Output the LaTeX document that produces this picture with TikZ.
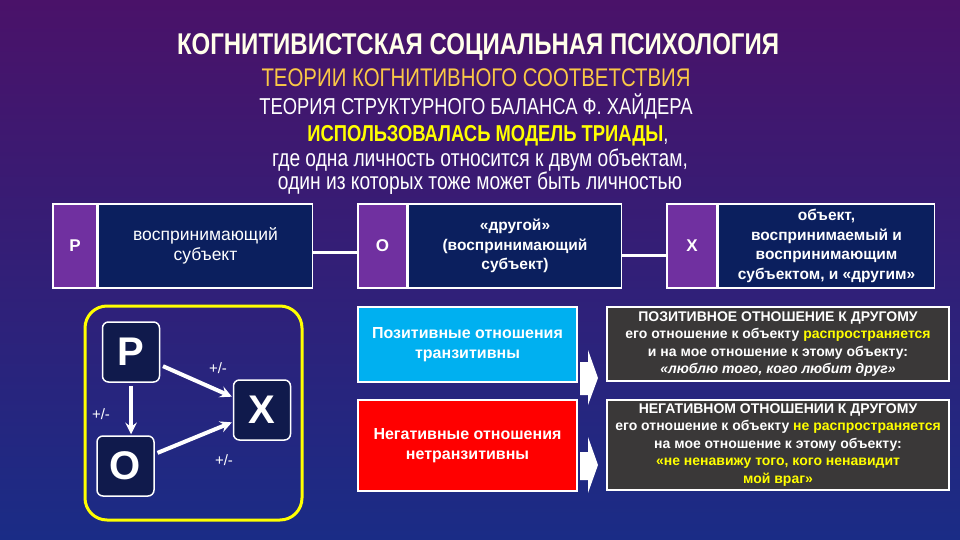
\documentclass[tikz,border=0pt]{standalone}
\usepackage{fontspec}
\setmainfont{Liberation Sans}
\newfontfamily\narrowfont[FakeStretch=0.8]{Liberation Sans}
\usepackage{xcolor,tikz}
\usetikzlibrary{calc,positioning}
\tikzset{>=stealth}
\newcommand{\fsz}[2]{\fontsize{#1}{#2}\selectfont}
\definecolor{bgtop}{HTML}{4A1269}
\definecolor{bgmid}{HTML}{2E1F7C}
\definecolor{bgbot}{HTML}{1A2C86}
\definecolor{tagpurple}{HTML}{7030A0}
\definecolor{deepnavy}{HTML}{0B1F5E}
\definecolor{trinavy}{HTML}{101A4C}
\definecolor{skyblue}{HTML}{00B0F0}
\definecolor{alarmred}{HTML}{FF0000}
\definecolor{slate}{HTML}{3A3838}
\definecolor{gold}{HTML}{FAC846}
\definecolor{yel}{HTML}{FFFF00}
\definecolor{cream}{HTML}{FFFFEA}
\tikzset{
  headline/.style={text=white,font=\narrowfont,inner sep=0pt},
  tag/.style={fill=tagpurple,draw=white,line width=1.5pt,text=white,
    minimum height=84pt,inner sep=0pt,font=\bfseries\fsz{17}{20}},
  desc/.style={fill=deepnavy,draw=white,line width=1.5pt,text=white,
    minimum height=84pt,inner sep=0pt,align=center},
  link/.style={white,line width=3pt},
  frame/.style={draw=yel,line width=3pt,rounded corners=22pt},
  big/.style={fill=trinavy,draw=white,line width=1.5pt,rounded corners=6pt,
    minimum width=57pt,minimum height=60pt,inner sep=0pt,text=white,
    font=\bfseries\fsz{40}{40}},
  bolt/.style={->,white,line width=4pt,shorten <=3pt,shorten >=1pt},
  sign/.style={text=white,inner sep=0pt,font=\fsz{15}{17}},
  rule/.style={draw=white,line width=1.5pt,text=white,align=center,
    minimum width=219pt,inner sep=0pt,font=\bfseries\fsz{16}{19.5}},
  comment/.style={fill=slate,draw=white,line width=1.5pt,text=white,align=center,
    minimum width=342pt,inner sep=0pt,font=\bfseries\fsz{14}{17.5}}
}
\begin{document}
\begin{tikzpicture}[x=1pt,y=-1pt]
\useasboundingbox (0,0) rectangle (960,540);
\shade[top color=bgtop,middle color=bgmid,bottom color=bgbot] (0,0) rectangle (960,540);
% headings
\node[headline,text=cream,font=\narrowfont\bfseries\fsz{30}{34}] (title) at (478,47) {КОГНИТИВИСТСКАЯ СОЦИАЛЬНАЯ ПСИХОЛОГИЯ};
\node[headline,text=gold,font=\narrowfont\fsz{25.5}{28}] (theory) at (476,78) {ТЕОРИИ КОГНИТИВНОГО СООТВЕТСТВИЯ};
\node[headline,font=\narrowfont\fsz{23}{28}] (heider) at (476,106) {ТЕОРИЯ СТРУКТУРНОГО БАЛАНСА Ф. ХАЙДЕРА};
\node[headline,font=\narrowfont\fsz{23}{28}] (triad) at (488,136) {\textcolor{yel}{\bfseries ИСПОЛЬЗОВАЛАСЬ МОДЕЛЬ ТРИАДЫ},};
\node[headline,align=center,font=\narrowfont\fsz{24}{23.5}] (note) at (480,171.5) {где одна личность относится к двум объектам,\\один из которых тоже может быть личностью};
% P -- O -- X row
\node[tag,minimum width=44pt] (pTag) at (75,246) {P};
\node[desc,minimum width=214pt,right=0pt of pTag,font=\fsz{17.5}{20}] (pDesc) {воспринимающий\\субъект};
\node[tag,minimum width=49pt] (oTag) at (382.5,246) {O};
\node[desc,minimum width=213pt,right=0pt of oTag,font=\bfseries\fsz{15.5}{19.5}] (oDesc) {«другой»\\(воспринимающий\\субъект)};
\node[tag,minimum width=50pt] (xTag) at (692,246) {X};
\node[desc,minimum width=216pt,right=0pt of xTag,font=\bfseries\fsz{15.5}{19.5}] (xDesc) {объект,\\воспринимаемый и\\воспринимающим\\субъектом, и «другим»};
\draw[link] ([yshift=-6pt]pDesc.east) -- ([yshift=-6pt]oTag.west);
\draw[link] ([yshift=-9pt]oDesc.east) -- ([yshift=-9pt]xTag.west);
% triad
\draw[frame] (85,306) rectangle (302,520);
\node[big] (pBig) at (131,352) {P};
\node[big] (xBig) at (262,410) {X};
\node[big] (oBig) at (125.5,466) {O};
\draw[bolt] (pBig) -- (xBig);
\draw[bolt] (pBig.south) -- (pBig.south |- oBig.north);
\draw[bolt] (oBig) -- (xBig);
\node[sign] (pxSign) at (218,368) {+/-};
\node[sign] (poSign) at (101,414) {+/-};
\node[sign] (oxSign) at (224,460) {+/-};
% rules
\node[rule,fill=skyblue,minimum height=75pt] (posRule) at (467.5,344.5) {Позитивные отношения\\транзитивны};
\node[rule,fill=alarmred,minimum height=91pt] (negRule) at (467.5,445.5) {Негативные отношения\\нетранзитивны};
\fill[white] (580,362) -- (588,362) -- (588,350) -- (598,378) -- (588,405) -- (588,395) -- (580,395) -- cycle;
\fill[white] (580,452) -- (588,452) -- (588,437) -- (598,465) -- (588,493) -- (588,480) -- (580,480) -- cycle;
% comments
\node[comment,minimum height=74pt] (posNote) at (778,344) {ПОЗИТИВНОЕ ОТНОШЕНИЕ К ДРУГОМУ\\
  его отношение к объекту \textcolor{yel}{распространяется}\\
  и на мое отношение к этому объекту:\\
  \textit{«люблю того, кого любит друг»}};
\node[comment,minimum height=90pt] (negNote) at (778,445) {НЕГАТИВНОМ ОТНОШЕНИИ К ДРУГОМУ\\
  его отношение к объекту \textcolor{yel}{не распространяется}\\
  на мое отношение к этому объекту:\\
  \textcolor{yel}{«не ненавижу того, кого ненавидит}\\
  \textcolor{yel}{мой враг»}};
\end{tikzpicture}
\end{document}
